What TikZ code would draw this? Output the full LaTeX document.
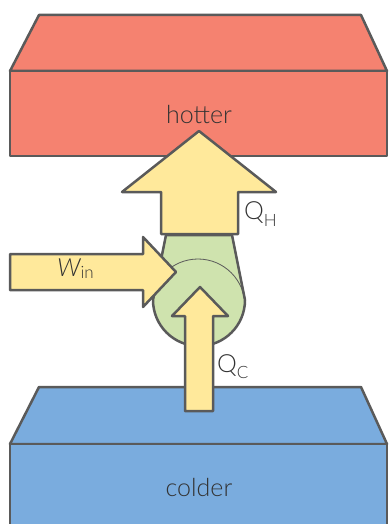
\documentclass[tikz,border=0pt]{standalone}
\usepackage{fontspec}
\setmainfont{Lato Light}[ItalicFont={Lato Light Italic}]
\definecolor{hotred}{RGB}{245,130,112}
\definecolor{coldblue}{RGB}{122,172,222}
\definecolor{arrowyel}{RGB}{255,233,155}
\definecolor{pumpgreen}{RGB}{207,227,174}
\definecolor{edgegray}{RGB}{90,90,90}
\definecolor{textgray}{RGB}{51,51,51}
\tikzset{
  outl/.style={draw=edgegray,line width=2.5pt,line join=round},
  lbl/.style={text=textgray,inner sep=0pt,font=\fontsize{25}{25}\selectfont},
}
\newcommand{\subtxt}[1]{{\fontsize{17}{17}\selectfont #1}}
\begin{document}
\begin{tikzpicture}[x=1pt,y=-1pt]
\useasboundingbox (0,0) rectangle (388,524);
\clip (0,0) rectangle (388,524);
% hot reservoir
\draw[outl,fill=hotred] (39,15) -- (361,15) -- (387,71) -- (10,71) -- cycle;
\draw[outl,fill=hotred] (10,71) rectangle (387,156);
\node[lbl] (hot) at (199,115) {hotter};
% cold reservoir
\draw[outl,fill=coldblue] (39,387) -- (361,387) -- (387,444) -- (10,444) -- cycle;
\draw[outl,fill=coldblue] (10,444) rectangle (387,540);
\node[lbl] (cold) at (199,487) {colder};
% pump body
\coordinate (pc) at (199,300);
\path[save path=\pumppath] (166,235) -- (153,300) arc[start angle=180,end angle=0,radius=46] -- (232,235) -- cycle;
\fill[pumpgreen,use path=\pumppath];
\begin{scope}
\clip[use path=\pumppath];
\draw[edgegray,line width=0.8pt] (198,306) circle[radius=47];
\end{scope}
\draw[outl,use path=\pumppath];
% Q_H arrow
\draw[outl,fill=arrowyel] (199,131) -- (276,192) -- (238,192) -- (238,234) -- (161,234) -- (161,192) -- (122,192) -- cycle;
% W_in arrow
\draw[outl,fill=arrowyel] (10,254) -- (143,254) -- (143,237) -- (176,272) -- (143,307) -- (143,290) -- (10,290) -- cycle;
% Q_C arrow
\draw[outl,fill=arrowyel] (200,287) -- (228,316) -- (213,316) -- (213,411) -- (185,411) -- (185,316) -- (172,316) -- cycle;
% labels
\node[lbl,anchor=base west] (qh) at (244,219) {Q\raisebox{-7pt}{\subtxt{H}}};
\node[lbl,anchor=base west] (qc) at (217,372) {Q\raisebox{-6pt}{\subtxt{C}}};
\node[lbl,anchor=base west] (win) at (57,276) {\itshape W\upshape\raisebox{-2pt}{\subtxt{in}}};
\end{tikzpicture}
\end{document}
